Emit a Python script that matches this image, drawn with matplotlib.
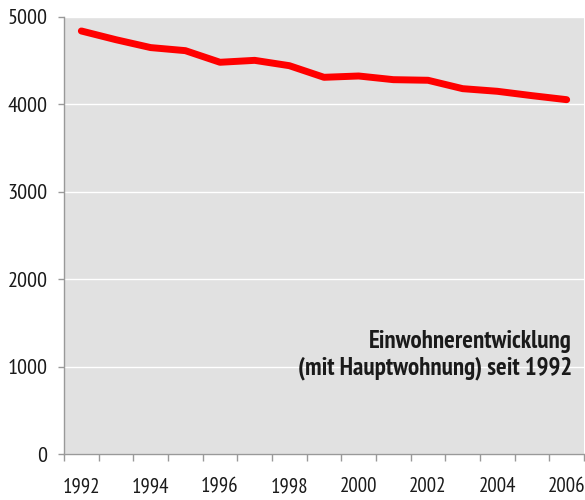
import matplotlib
matplotlib.use("Agg")
import matplotlib.pyplot as plt
from matplotlib import font_manager

years = [1992, 1993, 1994, 1995, 1996, 1997, 1998, 1999, 2000, 2001, 2002, 2003, 2004, 2005, 2006]
population = [4840, 4740, 4650, 4615, 4482, 4504, 4443, 4310, 4325, 4283, 4276, 4180, 4150, 4100, 4054]
yticks = [0, 1000, 2000, 3000, 4000, 5000]
xlabels = ["1992", "1994", "1996", "1998", "2000", "2002", "2004", "2006"]
title_lines = ["Einwohnerentwicklung", "(mit Hauptwohnung) seit 1992"]

entries = font_manager.fontManager.ttflist
names = {f.name for f in entries}
cands = ["Arial Narrow", "Liberation Sans Narrow", "PT Sans Narrow", "Roboto Condensed",
         "Archivo Narrow", "Pragati Narrow", "Encode Sans Condensed"]

def has_bold(n):
    for f in entries:
        if f.name == n:
            w = f.weight
            if isinstance(w, str):
                if 'bold' in w.lower():
                    return True
            elif w >= 600:
                return True
    return False

fam = None
bold_fam = None
for c in cands:
    if c in names and fam is None:
        fam = c
    if c in names and bold_fam is None and has_bold(c):
        bold_fam = c
if fam is None:
    fam = "Liberation Sans"
if bold_fam is None:
    bold_fam = fam
plt.rcParams['font.family'] = [fam, 'DejaVu Sans']

fig = plt.figure(figsize=(5.85, 5.0), dpi=100)
ax = fig.add_axes([64/585, 1 - 454/500, (584-64)/585, (454-17)/500])
ax.set_facecolor('#e1e1e1')

xs = list(range(len(years)))
ax.plot(xs, population, color='#ff0000', lw=5, solid_capstyle='round', solid_joinstyle='round', zorder=3)

ax.set_xlim(-0.5, len(years) - 0.5)
ax.set_ylim(0, 5000)
ax.set_yticks(yticks)
ax.set_yticklabels([str(v) for v in yticks], fontsize=16, color='#1a1a1a')
ax.yaxis.grid(True, color='white', lw=1)
ax.set_axisbelow(True)

# category boundary ticks
ax.set_xticks([i - 0.5 for i in range(len(years) + 1)])
ax.set_xticklabels([])
ax.set_xticks([i for i in range(0, len(years), 2)], minor=True)
ax.set_xticklabels(xlabels, minor=True, fontsize=15, color='#1a1a1a')
ax.tick_params(axis='x', which='major', length=5, color='#999999', width=1)
ax.tick_params(axis='x', which='minor', length=0, pad=16.5)
ax.tick_params(axis='y', length=4.3, color='#999999', width=1, pad=7.5)

for s in ['top', 'right']:
    ax.spines[s].set_visible(False)
for s in ['left', 'bottom']:
    ax.spines[s].set_color('#999999')
    ax.spines[s].set_linewidth(1)

for line, yb in zip(title_lines, [0.2426, 0.181]):
    ax.text(0.977, yb, line, transform=ax.transAxes,
            ha='right', va='baseline', fontsize=18, fontweight='bold',
            family=[bold_fam, 'DejaVu Sans'], color='#1a1a1a')

fig.savefig('out.png', dpi=100)
